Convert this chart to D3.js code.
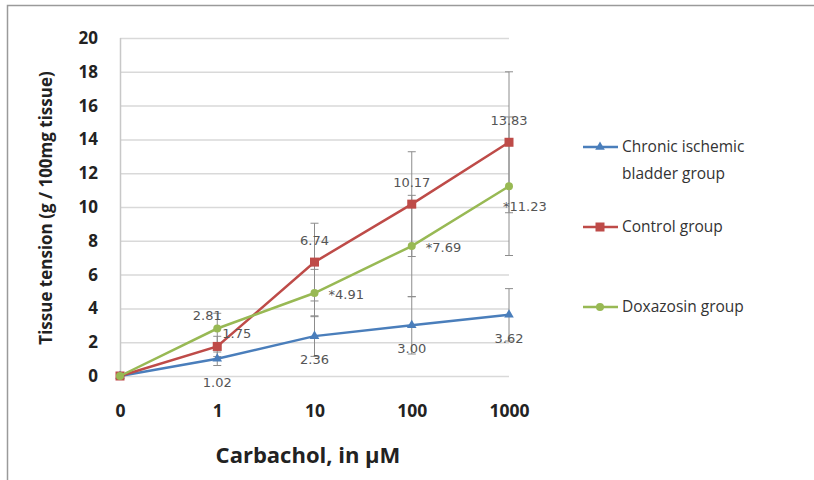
<!DOCTYPE html>
<html>
  <head>
    <script type="text/javascript" src="https://cdn.jsdelivr.net/npm/d3@7"></script>
    <style>
      body { margin: 0; background: #fff; }
      text { font-family: "Open Sans", "DejaVu Sans", sans-serif; }
    </style>
  </head>
  <body>
  <script type='text/javascript'>

    // data
    var doses = ["0", "1", "10", "100", "1000"];
    var ischemic = [0, 1.02, 2.36, 3.00, 3.62];
    var control = [0, 1.75, 6.74, 10.17, 13.83];
    var doxazosin = [0, 2.81, 4.91, 7.69, 11.23];
    var ischemicErr = [0, 0.4, 1.2, 1.7, 1.55];
    var controlErr = [0, 0.6, 2.3, 3.1, 4.17];
    var doxazosinErr = [0, 0.9, 1.4, 3.0, 4.1];
    var ischemicLabels = ["", "1.02", "2.36", "3.00", "3.62"];
    var controlLabels = ["", "1.75", "6.74", "10.17", "13.83"];
    var doxazosinLabels = ["", "2.81", "*4.91", "*7.69", "*11.23"];
    var yTicks = [0, 2, 4, 6, 8, 10, 12, 14, 16, 18, 20];

    var W = 814, H = 480;
    var svg = d3.select("body").append("svg")
        .attr("width", W)
        .attr("height", H);

    // frame
    svg.append("path")
        .attr("d", "M7.5,480 L7.5,5.5 L814,5.5")
        .attr("fill", "none")
        .attr("stroke", "#9a9a9a")
        .attr("stroke-width", 1.5);

    var x = d3.scalePoint().domain(doses).range([120, 509]);
    var y = d3.scaleLinear().domain([0, 20]).range([376, 38]);

    // gridlines
    svg.append("g").selectAll("line").data(yTicks).enter().append("line")
        .attr("x1", 120).attr("x2", 509)
        .attr("y1", function(d){ return y(d) + 0.5; })
        .attr("y2", function(d){ return y(d) + 0.5; })
        .attr("stroke", "#d9d9d9")
        .attr("stroke-width", 1.5);

    // y axis line
    svg.append("line")
        .attr("x1", 120.5).attr("x2", 120.5)
        .attr("y1", y(20)).attr("y2", y(0))
        .attr("stroke", "#c8c8c8")
        .attr("stroke-width", 1.5);

    // y axis
    var yAxis = d3.axisLeft(y).tickValues(yTicks).tickSize(0).tickPadding(22);
    var gy = svg.append("g").attr("transform", "translate(120,0)").call(yAxis);
    gy.select(".domain").remove();
    gy.selectAll("text")
        .attr("font-size", 17)
        .attr("font-weight", "bold")
        .attr("fill", "#222")
        .style("font-family", "'Open Sans', sans-serif");

    // x axis
    var xAxis = d3.axisBottom(x).tickSize(0).tickPadding(12);
    var gx = svg.append("g").attr("transform", "translate(0,393)").call(xAxis);
    gx.select(".domain").remove();
    gx.selectAll("text")
        .attr("font-size", 17.5)
        .attr("font-weight", "bold")
        .attr("fill", "#222")
        .style("font-family", "'Open Sans', sans-serif");

    // axis titles
    svg.append("text")
        .attr("transform", "translate(52,208) rotate(-90)")
        .attr("text-anchor", "middle")
        .attr("font-size", 17)
        .attr("font-weight", "bold")
        .attr("fill", "#222")
        .text("Tissue tension (g / 100mg tissue)");

    svg.append("text")
        .attr("x", 308).attr("y", 463)
        .attr("text-anchor", "middle")
        .attr("font-size", 22)
        .attr("font-weight", "bold")
        .attr("fill", "#222")
        .text("Carbachol, in \u00b5M");

    var series = [
      {name: "Chronic ischemic", name2: "bladder group", vals: ischemic, err: ischemicErr,
       labels: ischemicLabels, color: "#4a7ebb", marker: "triangle", ly: 147},
      {name: "Control group", vals: control, err: controlErr,
       labels: controlLabels, color: "#be4b48", marker: "square", ly: 227},
      {name: "Doxazosin group", vals: doxazosin, err: doxazosinErr,
       labels: doxazosinLabels, color: "#98b954", marker: "circle", ly: 307}
    ];

    // error bars
    series.forEach(function(s){
      var g = svg.append("g");
      s.vals.forEach(function(v, i){
        if (s.err[i] == 0) return;
        var cx = x(doses[i]);
        var lo = y(v - s.err[i]), hi = y(v + s.err[i]);
        g.append("line").attr("x1", cx).attr("x2", cx).attr("y1", lo).attr("y2", hi)
            .attr("stroke", "#8c8c8c").attr("stroke-width", 1);
        g.append("line").attr("x1", cx - 4).attr("x2", cx + 4).attr("y1", lo).attr("y2", lo)
            .attr("stroke", "#8c8c8c").attr("stroke-width", 1);
        g.append("line").attr("x1", cx - 4).attr("x2", cx + 4).attr("y1", hi).attr("y2", hi)
            .attr("stroke", "#8c8c8c").attr("stroke-width", 1);
      });
    });

    var line = d3.line()
        .x(function(d, i){ return x(doses[i]); })
        .y(function(d){ return y(d); });

    function marker(g, type, cx, cy, color){
      if (type == "square") {
        g.append("rect").attr("x", cx - 4.5).attr("y", cy - 4.5)
          .attr("width", 9).attr("height", 9).attr("fill", color);
      } else if (type == "circle") {
        g.append("circle").attr("cx", cx).attr("cy", cy).attr("r", 4).attr("fill", color);
      } else {
        g.append("path")
          .attr("d", d3.symbol().type(d3.symbolTriangle).size(40)())
          .attr("transform", "translate(" + cx + "," + cy + ")")
          .attr("fill", color);
      }
    }

    series.forEach(function(s){
      svg.append("path")
          .attr("d", line(s.vals))
          .attr("fill", "none")
          .attr("stroke", s.color)
          .attr("stroke-width", 2.5);
      var g = svg.append("g");
      s.vals.forEach(function(v, i){
        marker(g, s.marker, x(doses[i]), y(v), s.color);
      });
    });

    // data labels
    function label(tx, ty, txt, anchor){
      svg.append("text")
          .attr("x", tx).attr("y", ty)
          .attr("text-anchor", anchor || "middle")
          .attr("font-size", 13)
          .attr("fill", "#555")
          .style("font-family", "'DejaVu Sans', sans-serif")
          .text(txt);
    }

    ischemic.forEach(function(v, i){
      if (!ischemicLabels[i]) return;
      label(x(doses[i]), y(v) + 28, ischemicLabels[i]);
    });
    control.forEach(function(v, i){
      if (!controlLabels[i]) return;
      if (i == 1) label(x(doses[i]) + 5, y(v) - 8, controlLabels[i], "start");
      else label(x(doses[i]), y(v) - 17, controlLabels[i]);
    });
    doxazosin.forEach(function(v, i){
      if (!doxazosinLabels[i]) return;
      if (i == 1) label(x(doses[i]) - 10, y(v) - 9, doxazosinLabels[i]);
      else if (i == 4) label(x(doses[i]) - 6, y(v) + 25, doxazosinLabels[i], "start");
      else label(x(doses[i]) + 14, y(v) + 6, doxazosinLabels[i], "start");
    });

    // legend
    series.forEach(function(s){
      var g = svg.append("g");
      g.append("line").attr("x1", 583).attr("x2", 618)
          .attr("y1", s.ly).attr("y2", s.ly)
          .attr("stroke", s.color).attr("stroke-width", 2.5);
      marker(g, s.marker, 600, s.ly, s.color);
      g.append("text").attr("x", 622).attr("y", s.ly + 5)
          .attr("font-size", 15.5).attr("fill", "#333")
          .text(s.name);
      if (s.name2) {
        g.append("text").attr("x", 622).attr("y", s.ly + 32)
            .attr("font-size", 15.5).attr("fill", "#333")
            .text(s.name2);
      }
    });

  </script>
  </body>
</html>
